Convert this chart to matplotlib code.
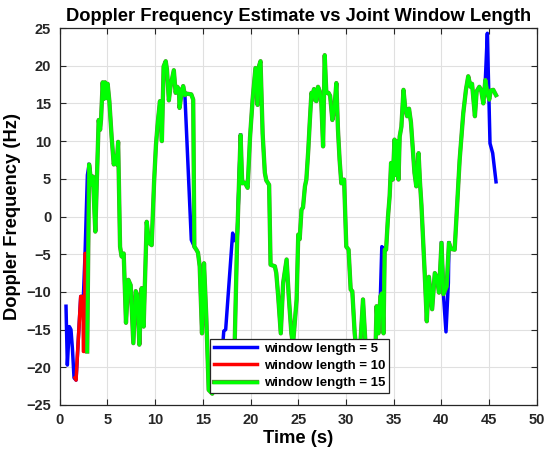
import numpy as np
import matplotlib
matplotlib.use('Agg')
import matplotlib.pyplot as plt
import matplotlib.patheffects as pe

plt.rcParams['font.family'] = ['Liberation Sans', 'DejaVu Sans']
plt.rcParams['font.weight'] = 'bold'

# window length = 15 estimate (time in s, Doppler in Hz)
t15 = [2.9, 3.1, 3.35, 3.5, 3.75, 4.1, 4.25, 4.35, 4.52, 4.64, 4.78, 4.9, 5.04, 5.22,
       5.46, 5.68, 5.86, 5.98, 6.14, 6.34, 6.5, 6.72, 6.96, 7.21, 7.45, 7.73, 7.98,
       8.15, 8.36, 8.6, 8.81, 9.13, 9.37, 9.65, 9.9, 10.1, 10.3, 10.52, 10.62, 10.72,
       10.9, 11.12, 11.25, 11.45, 11.62, 11.97, 12.16, 12.33, 12.5, 12.57, 12.78, 12.95,
       13.13, 13.3, 13.8, 14.0, 14.12, 14.33, 14.5, 14.68, 14.92, 15.13, 15.37, 15.62,
       16.0, 16.5, 17.0, 17.6, 18.0, 18.34, 18.6, 18.96, 19.13, 19.4, 19.7, 19.95,
       20.22, 20.52, 20.74, 20.9, 21.05, 21.27, 21.5, 21.65, 21.95, 22.1, 22.55, 22.7,
       22.9, 23.17, 23.42, 23.78, 24.0, 24.28, 24.45, 24.83, 25.0, 25.15, 25.34, 25.5,
       25.7, 25.85, 26.05, 26.2, 26.38, 26.5, 26.65, 26.78, 26.9, 27.07, 27.25, 27.42,
       27.6, 27.77, 27.94, 28.17, 28.34, 28.57, 28.8, 28.99, 29.16, 29.33, 29.51, 29.8,
       30.03, 30.27, 30.49, 30.66, 30.91, 31.2, 31.5, 31.78, 32.0, 32.4, 32.8, 33.1,
       33.2, 33.4, 33.6, 33.77, 33.93, 34.05, 34.2, 34.4, 34.57, 34.72, 34.9, 35.08,
       35.22, 35.35, 35.5, 35.62, 35.8, 36.02, 36.2, 36.4, 36.6, 36.8, 37.17, 37.36,
       37.6, 37.75, 37.9, 38.24, 38.46, 38.68, 39.02, 39.3, 39.5, 39.74, 40.0, 40.2,
       40.54, 40.78, 41.0, 41.38, 41.9, 42.28, 42.56, 42.8, 43.05, 43.2, 43.5, 43.68,
       43.96, 44.15, 44.38, 44.59, 44.8, 45.0, 45.15, 45.42, 45.71]
f15 = [-17.9, 6.9, 4.2, 5.3, -2.0, 12.8, 11.5, 12.9, 17.8, 15.6, 17.8, 15.7, 17.6, 15.3,
       10.5, 6.9, 8.0, 6.9, 9.9, -4.0, -5.3, -4.9, -14.1, -8.4, -9.1, -16.8, -9.9,
       -10.4, -17.0, -9.5, -14.6, -0.7, -3.5, -3.8, 4.5, 9.5, 12.6, 15.3, 13.0, 10.0,
       19.9, 20.6, 19.5, 15.4, 17.2, 19.4, 16.4, 17.2, 16.9, 14.4, 16.4, 17.3,
       16.1, 16.3, 16.2, 15.5, -4.0, -4.4, -4.8, -6.6, -15.5, -6.2, -13.3, -23.0,
       -23.5, -20.0, -22.5, -19.0, -21.5, -17.0, -3.1, 10.8, 4.4, 4.5, 3.8, 10.5,
       15.5, 19.7, 14.8, 20.0, 20.6, 11.0, 5.8, 4.8, 4.2, -6.4, -6.6, -7.5,
       -10.6, -15.5, -8.8, -5.7, -10.5, -15.5, -17.0, -11.0, -2.4, -3.0, 0.9, 1.2,
       4.0, 4.9, 8.8, 12.4, 16.4, 15.9, 16.9, 15.4, 15.3, 17.2, 16.6, 15.0,
       9.3, 21.4, 16.4, 16.4, 16.0, 12.8, 14.5, 17.7, 11.5, 7.5, 4.4, 4.9,
       -4.0, -4.4, -9.7, -9.9, -15.5, -19.0, -17.0, -11.0, -16.0, -22.0, -18.0, -17.0,
       -11.9, -15.5, -10.6, -10.2, -15.5, -4.4, -4.4, 0.0, 2.7, 7.1, 4.9, 10.2,
       5.5, 10.0, 4.9, 10.6, 11.9, 16.8, 14.4, 13.3, 14.3, 12.5, 5.8, 4.0,
       8.4, 4.5, 1.5, -7.5, -13.9, -8.0, -12.3, -7.5, -8.0, -10.1, -3.5, -10.3,
       -9.3, -3.5, -4.3, -4.4, 7.5, 13.7, 16.8, 18.6, 17.2, 17.6, 13.3, 16.6,
       17.2, 16.8, 15.0, 18.1, 16.4, 15.5, 16.7, 16.8, 16.1]

# window length = 10 estimate, where it differs from the longer window
t10 = [1.62, 1.73, 2.22, 2.45, 2.5, 2.62, 2.67, 2.75, 2.9]
f10 = [-21.4, -21.7, -10.6, -10.6, -17.9, -17.9, -4.9, -4.9, -17.9]

# window length = 5 estimate, stretches that leave the longer-window curve
t5_parts = [
    [0.68, 0.82, 1.03, 1.2, 1.35, 1.52, 1.73, 2.22, 2.5, 2.67, 2.92, 3.1],
    [13.13, 13.8, 14.12],
    [16.8, 17.2, 17.4, 18.13, 18.3, 18.6, 18.96],
    [33.6, 33.75, 34.05],
    [40.0, 40.2, 40.47, 40.72, 40.78],
    [44.59, 44.8, 45.08, 45.36, 45.71],
]
f5_parts = [
    [-11.9, -19.7, -14.6, -15.0, -17.5, -21.4, -21.7, -10.6, -10.6, -5.1, 5.5, 6.9],
    [16.1, -3.1, -4.0],
    [-22.0, -15.2, -15.0, -2.2, -3.2, -3.1, 10.8],
    [-10.6, -4.0, -4.4],
    [-3.5, -10.3, -15.3, -8.8, -3.5],
    [18.1, 24.3, 9.7, 8.4, 4.6],
]

# join the window-5 stretches into one line, broken by NaN gaps
t5, f5 = [], []
for tp, fp in zip(t5_parts, f5_parts):
    t5 += tp + [np.nan]
    f5 += fp + [np.nan]

fig = plt.figure(figsize=(5.47, 4.57), dpi=100)
ax = fig.add_axes([0.1088, 0.1138, 0.8729, 0.8249])

lw = 2.5
ax.plot(t5, f5, color=(0, 0, 1), lw=lw, label='window length = 5')
ax.plot(t10, f10, color=(1, 0, 0), lw=lw, label='window length = 10')
ax.plot(t15, f15, color=(0, 1, 0), lw=lw, label='window length = 15',
        path_effects=[pe.Stroke(linewidth=lw + 0.6, foreground='#5c8a3a'), pe.Normal()])

ax.set_xlim(0, 50)
ax.set_ylim(-25, 25)
ax.set_xticks(np.arange(0, 51, 5))
ax.set_yticks(np.arange(-25, 26, 5))
ax.grid(True, color='#e0e0e0', lw=0.8)
ax.set_axisbelow(True)

ax.tick_params(direction='in', top=True, right=True, length=4, width=0.8,
               colors='#262626', labelsize=10.5, pad=6)
for s in ax.spines.values():
    s.set_color('#262626')
    s.set_linewidth(0.9)

ax.set_title('Doppler Frequency Estimate vs Joint Window Length',
             fontsize=13.2, fontweight='bold', pad=5)
ax.set_xlabel('Time (s)', fontsize=13.2, fontweight='bold', labelpad=2)
ax.set_ylabel('Doppler Frequency (Hz)', fontsize=13.2, fontweight='bold', labelpad=4)

leg = ax.legend(loc='lower left', bbox_to_anchor=(0.315, 0.031), borderaxespad=0,
                fancybox=False, framealpha=1, edgecolor='#262626',
                prop={'size': 9.5, 'weight': 'bold'}, handlelength=3.3,
                labelspacing=0.38, borderpad=0.3, handletextpad=0.5)
leg.get_frame().set_linewidth(0.9)

fig.savefig('out.png', dpi=100)
